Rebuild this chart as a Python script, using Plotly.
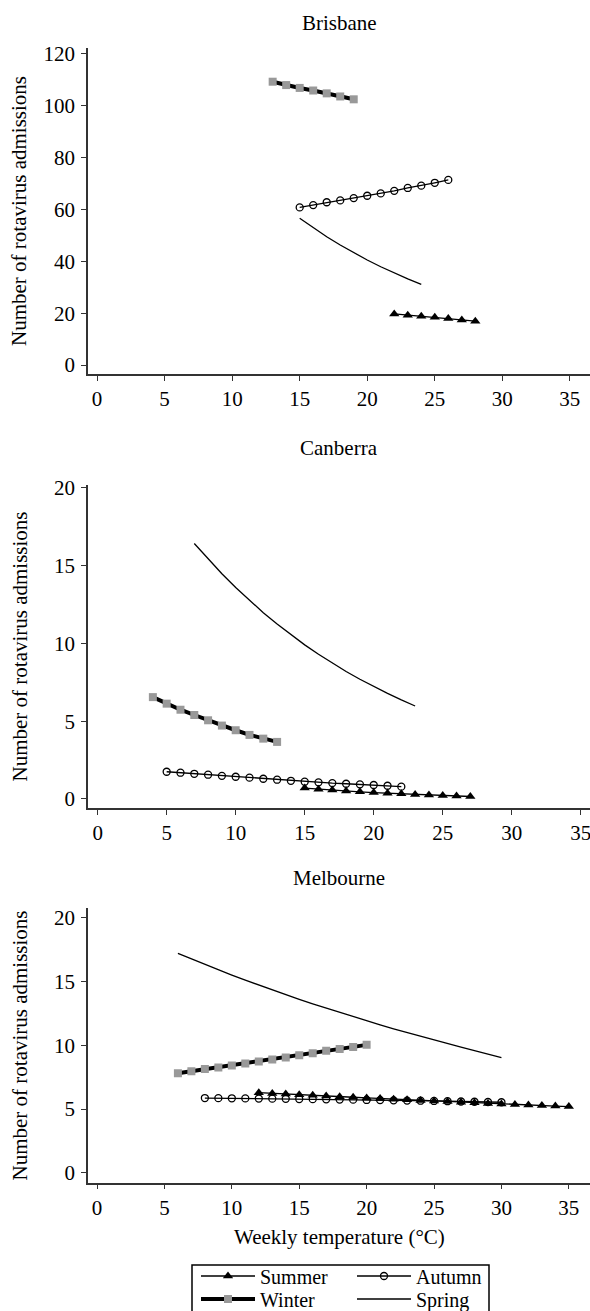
import plotly.graph_objects as go

# ---------------- data ----------------
cities = ["Brisbane", "Canberra", "Melbourne"]

# Brisbane
bri_summer_x = [22, 23, 24, 25, 26, 27, 28]
bri_summer_y = [19.7, 19.2, 18.8, 18.4, 17.9, 17.4, 16.9]
bri_autumn_x = [15, 16, 17, 18, 19, 20, 21, 22, 23, 24, 25, 26]
bri_autumn_y = [60.8, 61.7, 62.8, 63.5, 64.4, 65.3, 66.2, 67.2, 68.3, 69.2, 70.3, 71.4]
bri_winter_x = [13, 14, 15, 16, 17, 18, 19]
bri_winter_y = [109.3, 108.0, 106.9, 105.9, 104.8, 103.6, 102.5]
bri_spring_x = [15, 16, 17, 18, 19, 20, 21, 22, 23, 24]
bri_spring_y = [56.6, 52.9, 49.5, 46.3, 43.3, 40.5, 37.9, 35.5, 33.2, 31.1]

# Canberra
can_summer_x = [15, 16, 17, 18, 19, 20, 21, 22, 23, 24, 25, 26, 27]
can_summer_y = [0.70, 0.63, 0.57, 0.51, 0.46, 0.41, 0.37, 0.33, 0.29, 0.25, 0.22, 0.19, 0.16]
can_autumn_x = [5, 6, 7, 8, 9, 10, 11, 12, 13, 14, 15, 16, 17, 18, 19, 20, 21, 22]
can_autumn_y = [1.75, 1.69, 1.62, 1.56, 1.49, 1.43, 1.37, 1.30, 1.24, 1.17, 1.11, 1.07,
                1.02, 0.98, 0.94, 0.90, 0.85, 0.79]
can_winter_x = [4, 5, 6, 7, 8, 9, 10, 11, 12, 13]
can_winter_y = [6.55, 6.13, 5.74, 5.40, 5.06, 4.72, 4.42, 4.12, 3.88, 3.67]
can_spring_x = [7, 8, 9, 10, 11, 12, 13, 14, 15, 16, 17, 18, 19, 20, 21, 22, 23]
can_spring_y = [16.43, 15.42, 14.48, 13.60, 12.76, 11.98, 11.25, 10.56, 9.91, 9.31,
                8.74, 8.20, 7.70, 7.23, 6.79, 6.37, 5.98]

# Melbourne
mel_summer_x = [12, 13, 14, 15, 16, 17, 18, 19, 20, 21, 22, 23, 24, 25, 26, 27, 28, 29,
                30, 31, 32, 33, 34, 35]
mel_summer_y = [6.28, 6.22, 6.17, 6.12, 6.07, 6.02, 5.97, 5.92, 5.87, 5.82, 5.77, 5.72,
                5.67, 5.62, 5.58, 5.53, 5.49, 5.44, 5.40, 5.36, 5.31, 5.27, 5.23, 5.19]
mel_autumn_x = [8, 9, 10, 11, 12, 13, 14, 15, 16, 17, 18, 19, 20, 21, 22, 23, 24, 25, 26,
                27, 28, 29, 30]
mel_autumn_y = [5.86, 5.85, 5.84, 5.83, 5.82, 5.81, 5.80, 5.78, 5.77, 5.76, 5.74, 5.73,
                5.71, 5.70, 5.68, 5.66, 5.65, 5.63, 5.61, 5.59, 5.57, 5.55, 5.53]
mel_winter_x = [6, 7, 8, 9, 10, 11, 12, 13, 14, 15, 16, 17, 18, 19, 20]
mel_winter_y = [7.81, 7.97, 8.13, 8.26, 8.41, 8.57, 8.72, 8.88, 9.04, 9.22, 9.38, 9.56,
                9.71, 9.87, 10.03]
mel_spring_x = [6, 7, 8, 9, 10, 11, 12, 13, 14, 15, 16, 17, 18, 19, 20, 21, 22, 23, 24,
                25, 26, 27, 28, 29, 30]
mel_spring_y = [17.2, 16.76, 16.33, 15.91, 15.5, 15.1, 14.71, 14.33, 13.96, 13.6, 13.25,
                12.91, 12.57, 12.24, 11.92, 11.6, 11.29, 10.99, 10.7, 10.41, 10.13, 9.85,
                9.58, 9.3, 9.02]

x_ticks = [0, 5, 10, 15, 20, 25, 30, 35]
bri_y_ticks = [0, 20, 40, 60, 80, 100, 120]
small_y_ticks = [0, 5, 10, 15, 20]

y_title = "Number of rotavirus admissions"
x_title = "Weekly temperature (°C)"

# ---------------- layout geometry ----------------
W, H = 590, 1311
FONT = "Liberation Serif"
AX = "#333333"
X0 = 88 / W

panels = [
    # name, axis suffix, px bottom, px top, xrange, yrange, yticks, title y px
    ("Brisbane", "", 374, 48, [-0.67, 36.49], [-3.47, 122.3], bri_y_ticks, 23),
    ("Canberra", "2", 808, 485, [-0.70, 35.67], [-0.58, 20.19], small_y_ticks, 448),
    ("Melbourne", "3", 1182.7, 908.3, [-0.67, 36.57], [-0.78, 20.74], small_y_ticks, 878),
]

data_sets = [
    (bri_summer_x, bri_summer_y, bri_autumn_x, bri_autumn_y,
     bri_winter_x, bri_winter_y, bri_spring_x, bri_spring_y),
    (can_summer_x, can_summer_y, can_autumn_x, can_autumn_y,
     can_winter_x, can_winter_y, can_spring_x, can_spring_y),
    (mel_summer_x, mel_summer_y, mel_autumn_x, mel_autumn_y,
     mel_winter_x, mel_winter_y, mel_spring_x, mel_spring_y),
]

fig = go.Figure()
layout = dict(
    width=W, height=H,
    margin=dict(l=0, r=0, t=0, b=0, autoexpand=False),
    paper_bgcolor="white", plot_bgcolor="white",
    font=dict(family=FONT, size=21, color="black"),
    annotations=[], shapes=[],
)

for i, (name, sfx, pb, pt, xr, yr, yt, ty) in enumerate(panels):
    sx, sy, ax_, ay, wx, wy, spx, spy = data_sets[i]
    xa = "x" + sfx
    ya = "y" + sfx
    last = (i == 2)
    fig.add_trace(go.Scatter(
        x=sx, y=sy, mode="lines+markers", name="Summer",
        line=dict(color="black", width=1.3),
        marker=dict(symbol="triangle-up", size=9, color="black"),
        xaxis=xa, yaxis=ya, showlegend=last, legend="legend"))
    fig.add_trace(go.Scatter(
        x=ax_, y=ay, mode="lines+markers", name="Autumn",
        line=dict(color="black", width=1.3),
        marker=dict(symbol="circle-open", size=7, color="black", line=dict(width=1.3)),
        xaxis=xa, yaxis=ya, showlegend=last, legend="legend"))
    fig.add_trace(go.Scatter(
        x=wx, y=wy, mode="lines+markers", name="Winter",
        line=dict(color="black", width=4),
        marker=dict(symbol="square", size=8, color="#999999"),
        xaxis=xa, yaxis=ya, showlegend=last, legend="legend2"))
    fig.add_trace(go.Scatter(
        x=spx, y=spy, mode="lines", name="Spring",
        line=dict(color="black", width=1.3),
        xaxis=xa, yaxis=ya, showlegend=last, legend="legend2"))

    dom_y = [1 - pb / H, 1 - pt / H]
    layout["xaxis" + sfx] = dict(
        domain=[X0, 1], range=xr, anchor=ya, tickvals=x_ticks,
        showline=True, linecolor=AX, linewidth=1.5, ticks="outside", ticklen=5,
        tickwidth=1.3, tickcolor=AX, showgrid=False, zeroline=False, automargin=False,
        ticklabeloverflow="allow",
        tickfont=dict(family=FONT, size=21, color="black"), fixedrange=True)
    layout["yaxis" + sfx] = dict(
        domain=dom_y, range=yr, anchor=xa, tickvals=yt,
        showline=True, linecolor=AX, linewidth=1.5, ticks="outside", ticklen=5,
        tickwidth=1.3, tickcolor=AX, showgrid=False, zeroline=False, automargin=False,
        ticklabelstandoff=2, ticklabeloverflow="allow",
        tickfont=dict(family=FONT, size=21, color="black"), fixedrange=True)
    # panel title
    layout["annotations"].append(dict(
        text=name, xref="paper", yref="paper", x=(X0 + 1) / 2, y=1 - ty / H,
        xanchor="center", yanchor="middle", showarrow=False,
        font=dict(family=FONT, size=21, color="black")))
    # y axis title
    layout["annotations"].append(dict(
        text=y_title, xref="paper", yref="paper", x=19 / W, y=(dom_y[0] + dom_y[1]) / 2,
        xanchor="center", yanchor="middle", textangle=-90, showarrow=False,
        font=dict(family=FONT, size=21, color="black")))

# x axis title (bottom panel)
layout["annotations"].append(dict(
    text=x_title, xref="paper", yref="paper", x=(X0 + 1) / 2, y=1 - 1237 / H,
    xanchor="center", yanchor="middle", showarrow=False,
    font=dict(family=FONT, size=21, color="black")))

# legends: two rows inside one box
leg_common = dict(orientation="h", xanchor="left", yanchor="middle",
                  bgcolor="rgba(0,0,0,0)", borderwidth=0,
                  font=dict(family=FONT, size=20, color="black"),
                  entrywidth=87, entrywidthmode="pixels", itemwidth=54,
                  tracegroupgap=0, itemclick=False, itemdoubleclick=False)
layout["legend"] = dict(x=196 / W, y=1 - 1276 / H, **leg_common)
layout["legend2"] = dict(x=196 / W, y=1 - 1299 / H, **leg_common)
layout["shapes"].append(dict(
    type="rect", xref="paper", yref="paper",
    x0=192 / W, x1=489 / W, y0=1 - 1325 / H, y1=1 - 1265 / H,
    line=dict(color="black", width=1.5), fillcolor="rgba(0,0,0,0)"))

fig.update_layout(**layout)
fig.write_html(
    "out.html",
    config={"displayModeBar": False},
    post_script="document.body.style.margin='0';document.body.style.overflow='hidden';",
)
